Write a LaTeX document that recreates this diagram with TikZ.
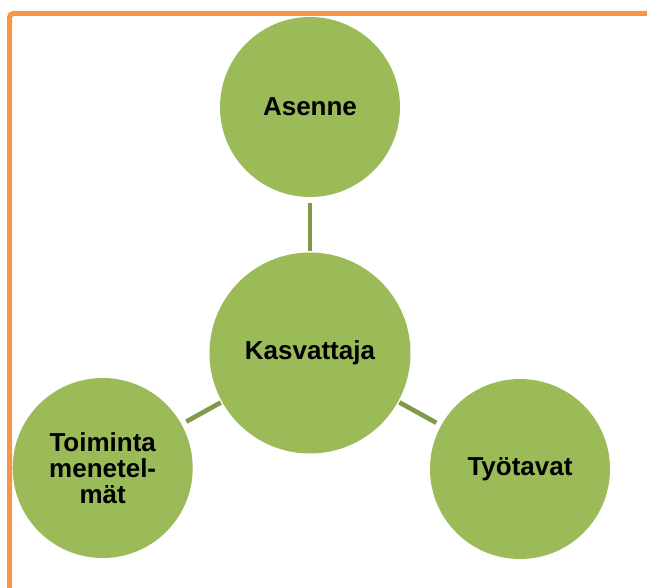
\documentclass[tikz,border=0pt]{standalone}
\usepackage{fontspec}
\setmainfont{Liberation Sans}
\definecolor{leaf}{HTML}{9BBB59}
\definecolor{stem}{HTML}{7F9A48}
\definecolor{frameorange}{HTML}{F79646}
\begin{document}
\begin{tikzpicture}[x=0.75pt,y=-0.75pt,
  bubble/.style={circle,fill=leaf,draw=none,inner sep=0pt,align=center,
    font=\fontsize{19.5}{19.5}\selectfont\bfseries,text=black},
  small/.style={bubble,minimum size=135pt},
  big/.style={bubble,minimum size=150.75pt},
  link/.style={draw=stem,line width=3.5pt,shorten <=1pt,shorten >=4pt}]
\useasboundingbox (0,0) rectangle (647,588);
% outer frame (open to the right and bottom)
\draw[frameorange,line width=3.75pt,rounded corners=3pt]
  (9.5,600) -- (9.5,13.5) -- (660,13.5);
% circles
\node[small] (asenne) at (310,107) {Asenne};
\node[big] (kasv) at (310,353) {Kasvattaja};
\node[small] (toim) at (102.7,468) {Toiminta\\menetel-\\mät};
\node[small] (tyo) at (520,469) {Työtavat};
% connectors
\draw[link] (kasv) -- (asenne);
\draw[link] (kasv) -- (toim);
\draw[link] (kasv) -- (tyo);
\end{tikzpicture}
\end{document}
